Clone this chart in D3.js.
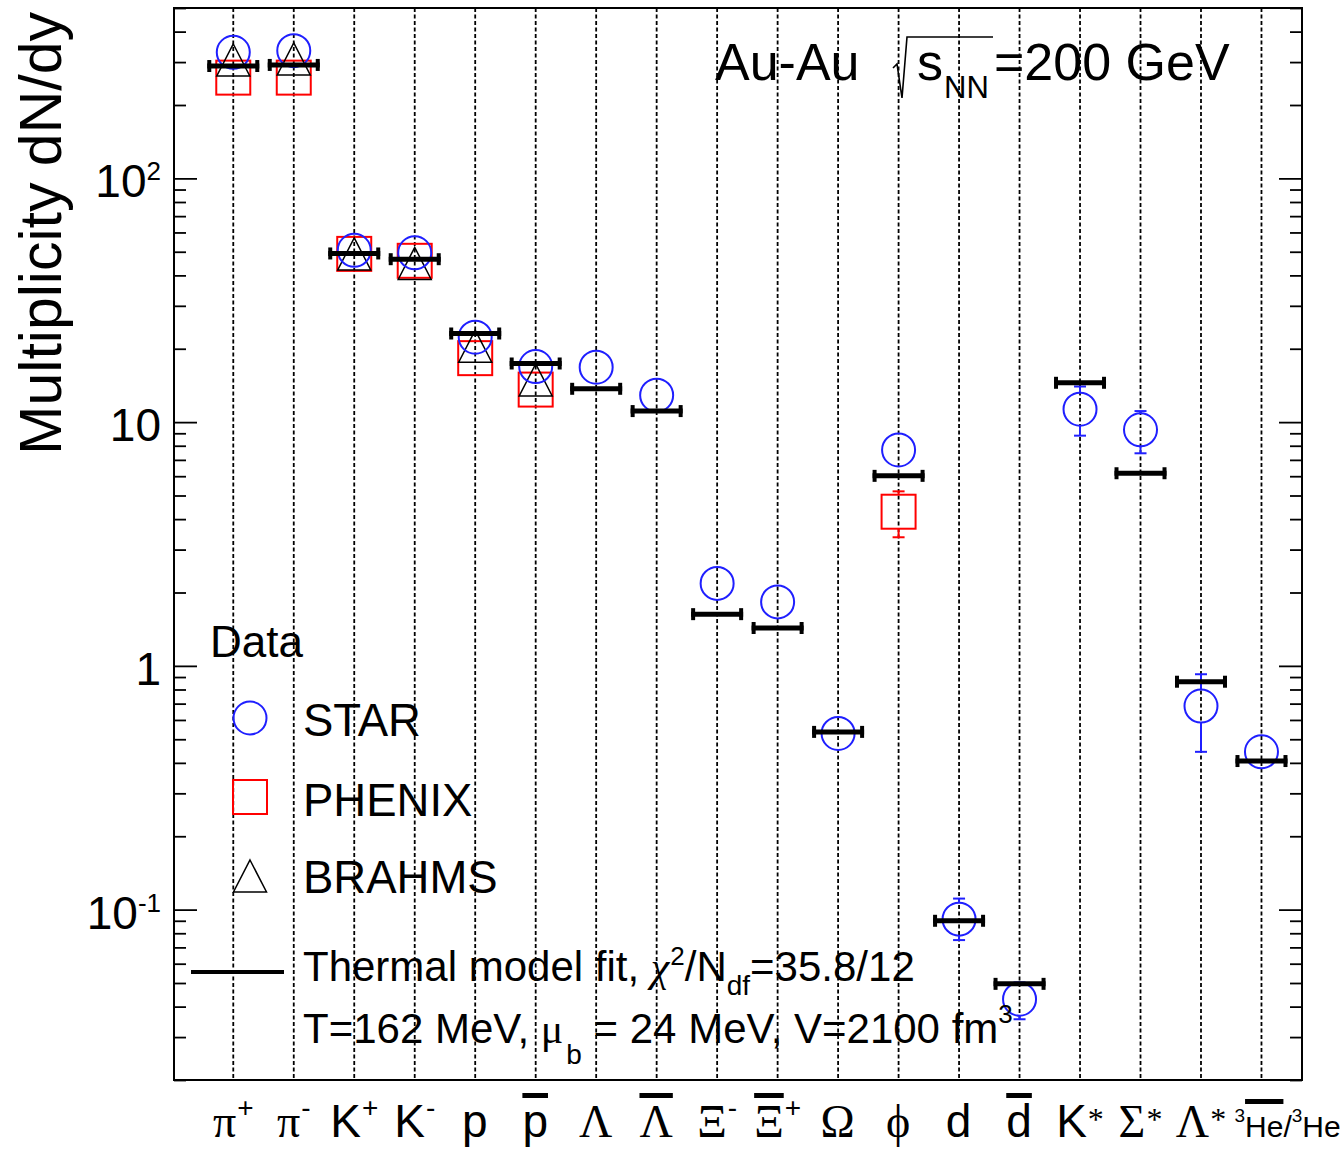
<!DOCTYPE html>
<html>
<head>
<meta charset="utf-8">
<script src="https://cdn.jsdelivr.net/npm/d3@7"></script>
<style>
  html, body { margin: 0; padding: 0; background: #fff; }
  svg text { white-space: pre; }
</style>
</head>
<body>
<svg id="chart" width="1343" height="1149"></svg>
<script>
// ---------------- DATA ----------------
const categories = ["π+","π-","K+","K-","p","pbar","Λ","Λbar","Ξ-","Ξbar+","Ω","φ","d","dbar","K*","Σ*","Λ*","3Hebar/3He"];
const tickBase = ["π","π","K","K","p","p","Λ","Λ","Ξ","Ξ","Ω","ϕ","d","d","K","Σ","Λ",""];
const tickSup  = ["+","-","+","-","","","","","-","+","","","","","*","*","*",""];
const tickBar  = [0,0,0,0,0,1,0,1,0,1,0,0,0,1,0,0,0,0];

const starValues  = [329, 334, 50.7, 49.5, 22.3, 16.9, 16.8, 12.9, 2.18, 1.83, 0.528, 7.69, 0.0914, 0.0429, 11.3, 9.3, 0.684, 0.444];
const starErrLow  = [null,null,null,null,null,null,null,null,null,null,null,null,0.075,0.0355,8.8,7.45,0.444,null];
const starErrHigh = [null,null,null,null,null,null,null,null,null,null,null,null,0.111,0.0503,14.0,11.1,0.924,null];

const phenixValues  = [259, 259, 49, 45.9, 18.3, 13.6, null,null,null,null,null, 4.29, null,null,null,null,null,null];
const phenixErrLow  = [null,null,null,null,null,null,null,null,null,null,null, 3.37, null,null,null,null,null,null];
const phenixErrHigh = [null,null,null,null,null,null,null,null,null,null,null, 5.2, null,null,null,null,null,null];

const brahmsValues = [306, 309, 49, 44.8, 20.5, 14.9, null,null,null,null,null,null,null,null,null,null,null,null];

const fitValues = [289, 292, 49.2, 46.6, 23.1, 17.4, 13.7, 11.1, 1.63, 1.43, 0.536, 6.02, 0.0900, 0.0496, 14.5, 6.17, 0.861, 0.407];

const yMajorTicks = [0.1, 1, 10, 100];
const yMajorLabels = [["10","-1"],["1",""],["10",""],["10","2"]];
const yMinorTicks = [0.02,0.03,0.04,0.05,0.06,0.07,0.08,0.09,
                     0.2,0.3,0.4,0.5,0.6,0.7,0.8,0.9,
                     2,3,4,5,6,7,8,9,
                     20,30,40,50,60,70,80,90,
                     200,300,400,500];

// ---------------- SETUP ----------------
const SANS = "'Liberation Sans', Arial, Helvetica, sans-serif";
const SERIF = "'Liberation Serif', 'Times New Roman', serif";
const svg = d3.select("#chart");
svg.append("rect").attr("width",1343).attr("height",1149).attr("fill","#fff");

const L = 174, R = 1302, T = 8, B = 1080;
const x = d3.scaleLinear().domain([-0.98, 17.67]).range([L, R]);
const y = d3.scaleLog().domain([0.02, 500]).range([B, T]);
const idx = d3.range(categories.length);

// dashed vertical grid per category
svg.append("g").selectAll("line").data(idx).join("line")
  .attr("x1", d => x(d)).attr("x2", d => x(d))
  .attr("y1", T).attr("y2", B)
  .attr("stroke", "#000").attr("stroke-width", 1.8)
  .attr("stroke-dasharray", "4,2.5");

// axes (ticks inside, on both sides)
function styleAxis(g) {
  g.select(".domain").remove();
  g.selectAll(".tick line").attr("stroke", "#000").attr("stroke-width", 1.8);
}
svg.append("g").attr("transform", `translate(${L},0)`)
  .call(d3.axisLeft(y).tickValues(yMinorTicks).tickSize(-12).tickFormat(""))
  .call(styleAxis);
svg.append("g").attr("transform", `translate(${R},0)`)
  .call(d3.axisRight(y).tickValues(yMinorTicks).tickSize(-12).tickFormat(""))
  .call(styleAxis);
svg.append("g").attr("transform", `translate(${R},0)`)
  .call(d3.axisRight(y).tickValues(yMajorTicks).tickSize(-23).tickFormat(""))
  .call(styleAxis);
const yMajor = svg.append("g").attr("transform", `translate(${L},0)`)
  .call(d3.axisLeft(y).tickValues(yMajorTicks).tickSize(-23).tickPadding(13).tickFormat(""))
  .call(styleAxis);
yMajor.selectAll(".tick text").each(function(d, i) {
  const t = d3.select(this)
    .attr("font-family", SANS).attr("font-size", 46).attr("fill", "#000")
    .attr("dy", "0.4em").attr("text-anchor", "end");
  const lab = yMajorLabels[yMajorTicks.indexOf(d)];
  t.text(null);
  t.append("tspan").text(lab[0]);
  if (lab[1]) t.append("tspan").attr("font-size", 26).attr("dy", -17).text(lab[1]);
});

// frame
svg.append("rect").attr("x", L).attr("y", T).attr("width", R - L).attr("height", B - T)
  .attr("fill", "none").attr("stroke", "#000").attr("stroke-width", 2);

// ---------------- MARKERS ----------------
const SQ = 34, CR = 16.5, TW = 33, TH = 32;

// PHENIX squares
const phx = idx.filter(i => phenixValues[i] != null);
svg.append("g").selectAll("rect").data(phx).join("rect")
  .attr("x", i => x(i) - SQ/2).attr("y", i => y(phenixValues[i]) - SQ/2)
  .attr("width", SQ).attr("height", SQ)
  .attr("fill", "none").attr("stroke", "#ff0000").attr("stroke-width", 2);

// BRAHMS triangles
const brx = idx.filter(i => brahmsValues[i] != null);
svg.append("g").selectAll("path").data(brx).join("path")
  .attr("transform", i => `translate(${x(i)},${y(brahmsValues[i])})`)
  .attr("d", `M0,${-TH/2}L${TW/2},${TH/2}L${-TW/2},${TH/2}Z`)
  .attr("fill", "none").attr("stroke", "#000").attr("stroke-width", 1.5);

// STAR circles
svg.append("g").selectAll("circle").data(idx).join("circle")
  .attr("cx", i => x(i)).attr("cy", i => y(starValues[i])).attr("r", CR)
  .attr("fill", "none").attr("stroke", "#1f1fff").attr("stroke-width", 2);

// error bars
function errBars(vals, lo, hi, half, color) {
  const g = svg.append("g").attr("stroke", color).attr("stroke-width", 2);
  idx.forEach(i => {
    if (vals[i] == null || lo[i] == null) return;
    const cx = x(i), cy = y(vals[i]);
    const yh = y(hi[i]), yl = y(lo[i]);
    if (yh < cy - half) {
      g.append("line").attr("x1", cx).attr("x2", cx).attr("y1", yh).attr("y2", cy - half);
      g.append("line").attr("x1", cx - 6).attr("x2", cx + 6).attr("y1", yh).attr("y2", yh);
    }
    if (yl > cy + half) {
      g.append("line").attr("x1", cx).attr("x2", cx).attr("y1", cy + half).attr("y2", yl);
      g.append("line").attr("x1", cx - 6).attr("x2", cx + 6).attr("y1", yl).attr("y2", yl);
    }
  });
}
errBars(starValues, starErrLow, starErrHigh, CR, "#1f1fff");
errBars(phenixValues, phenixErrLow, phenixErrHigh, SQ/2, "#ff0000");

// thermal fit bars
const fitG = svg.append("g").attr("stroke", "#000");
fitG.selectAll("line.h").data(idx).join("line").attr("class", "h")
  .attr("x1", i => x(i) - 26).attr("x2", i => x(i) + 26)
  .attr("y1", i => y(fitValues[i])).attr("y2", i => y(fitValues[i]))
  .attr("stroke-width", 5);
fitG.selectAll("line.l").data(idx).join("line").attr("class", "l")
  .attr("x1", i => x(i) - 24).attr("x2", i => x(i) - 24)
  .attr("y1", i => y(fitValues[i]) - 6).attr("y2", i => y(fitValues[i]) + 6)
  .attr("stroke-width", 4);
fitG.selectAll("line.r").data(idx).join("line").attr("class", "r")
  .attr("x1", i => x(i) + 24).attr("x2", i => x(i) + 24)
  .attr("y1", i => y(fitValues[i]) - 6).attr("y2", i => y(fitValues[i]) + 6)
  .attr("stroke-width", 4);

// ---------------- TEXT HELPERS ----------------
// lay out a sequence of text parts horizontally
function seq(parent, x0, y0, parts, anchor) {
  const g = parent.append("g");
  let cx = 0;
  parts.forEach(p => {
    if (p.gap != null) { cx += p.gap; return; }
    const t = g.append("text").attr("x", cx).attr("y", p.dy || 0)
      .attr("font-size", p.size).attr("font-family", p.fam || SANS)
      .attr("font-style", p.style || null).attr("fill", "#000").text(p.t);
    const w = t.node().getComputedTextLength();
    if (p.bar) g.append("rect").attr("x", cx).attr("y", p.barY).attr("width", w).attr("height", p.barH || 5).attr("fill", "#000");
    cx += w + (p.after || 0);
  });
  const off = anchor === "middle" ? -cx / 2 : anchor === "end" ? -cx : 0;
  g.attr("transform", `translate(${x0 + off},${y0})`);
  return g;
}

// ---------------- X LABELS ----------------
const xl = svg.append("g");
const greek = /[πΛΞΩϕφΣ]/;
idx.forEach(i => {
  if (i === categories.length - 1) return;
  const parts = [{ t: tickBase[i], size: 46, fam: greek.test(tickBase[i]) ? SERIF : SANS,
                   bar: tickBar[i], barY: -44, barH: 5, after: 1 }];
  if (tickSup[i] === "*") parts.push({ t: "*", size: 32, fam: SERIF, dy: -7 });
  else if (tickSup[i]) parts.push({ t: tickSup[i], size: 28, dy: -20 });
  seq(xl, x(i), 1137, parts, "middle");
});
// 3He-bar / 3He
seq(xl, x(categories.length - 1) - 27, 1137, [
  { t: "3", size: 19, dy: -15 },
  { t: "He", size: 30, bar: 1, barY: -38, barH: 5 },
  { t: "/", size: 30 },
  { t: "3", size: 19, dy: -15 },
  { t: "He", size: 30 }
], "start");

// ---------------- AXIS TITLE ----------------
svg.append("text").attr("transform", "translate(61,12) rotate(-90)")
  .attr("text-anchor", "end").attr("font-family", SANS).attr("font-size", 59)
  .attr("fill", "#000").text("Multiplicity dN/dy");

// ---------------- TITLE ----------------
svg.append("text").attr("x", 715).attr("y", 80).attr("font-family", SANS)
  .attr("font-size", 52).attr("fill", "#000").text("Au-Au");
svg.append("path").attr("d", "M893,68 L897,64 L902,98 L907,37 L993,37")
  .attr("fill", "none").attr("stroke", "#000").attr("stroke-width", 1.6);
svg.append("text").attr("x", 917).attr("y", 80).attr("font-family", SANS)
  .attr("font-size", 52).attr("fill", "#000").text("s");
svg.append("text").attr("x", 944).attr("y", 98).attr("font-family", SANS)
  .attr("font-size", 31).attr("fill", "#000").text("NN");
svg.append("text").attr("x", 994).attr("y", 80).attr("font-family", SANS)
  .attr("font-size", 52).attr("fill", "#000").text("=200 GeV");

// ---------------- LEGEND ----------------
const lg = svg.append("g");
lg.append("text").attr("x", 210).attr("y", 657).attr("font-family", SANS)
  .attr("font-size", 44).attr("fill", "#000").text("Data");
lg.append("circle").attr("cx", 250).attr("cy", 718).attr("r", CR)
  .attr("fill", "none").attr("stroke", "#1f1fff").attr("stroke-width", 2);
lg.append("rect").attr("x", 250 - SQ/2).attr("y", 797 - SQ/2).attr("width", SQ).attr("height", SQ)
  .attr("fill", "none").attr("stroke", "#ff0000").attr("stroke-width", 2);
lg.append("path").attr("transform", "translate(250,876)")
  .attr("d", `M0,${-TH/2}L${TW/2},${TH/2}L${-TW/2},${TH/2}Z`)
  .attr("fill", "none").attr("stroke", "#000").attr("stroke-width", 1.5);
lg.append("line").attr("x1", 191).attr("x2", 284).attr("y1", 972).attr("y2", 972)
  .attr("stroke", "#000").attr("stroke-width", 4);
[["STAR", 736], ["PHENIX", 816], ["BRAHMS", 893]].forEach(([t, yy]) =>
  lg.append("text").attr("x", 303).attr("y", yy).attr("font-family", SANS)
    .attr("font-size", 45.5).attr("fill", "#000").text(t));
seq(lg, 303, 981, [
  { t: "Thermal model fit, ", size: 42 },
  { t: "χ", size: 42, fam: SERIF, style: "italic", after: 1 },
  { t: "2", size: 26, dy: -16 },
  { t: "/N", size: 42 },
  { t: "df", size: 28, dy: 14 },
  { t: "=35.8/12", size: 42 }
], "start");
seq(lg, 303, 1043, [
  { t: "T=162 MeV, ", size: 42 },
  { t: "μ", size: 42, fam: SERIF, after: 3 },
  { t: "b", size: 28, dy: 21 },
  { t: " = 24 MeV, V=2100 fm", size: 42 },
  { t: "3", size: 26, dy: -20 }
], "start");
</script>
</body>
</html>
